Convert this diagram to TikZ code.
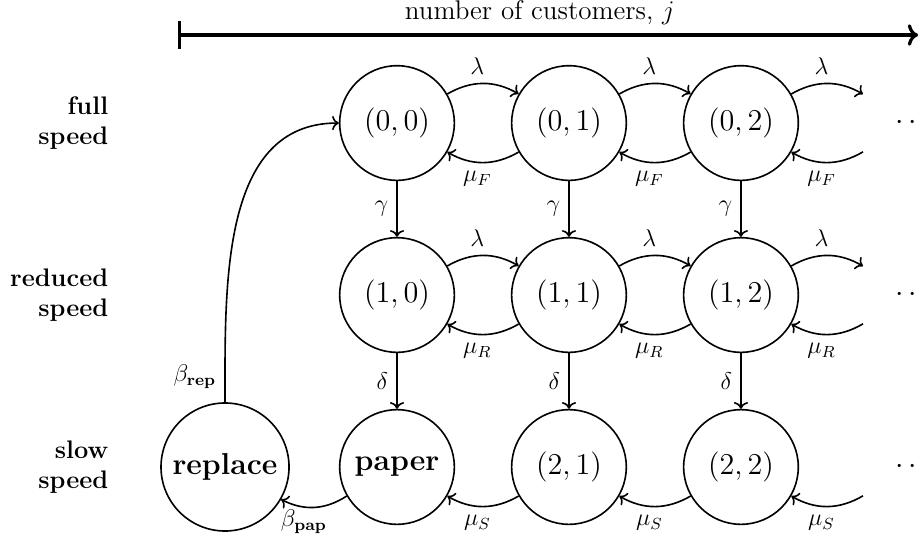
\RequirePackage{fix-cm}
\documentclass[tikz,border=0pt,12pt]{standalone}
\usetikzlibrary{arrows.meta}

\tikzset{
    state/.style={circle, draw, thick, minimum size=2cm, font=\fontsize{15}{18}\selectfont},
    ghost/.style={circle, minimum size=2cm, font=\fontsize{15}{18}\selectfont},
    trans/.style={->, thick},
    level/.style={anchor=east, align=right, font=\fontsize{12.6}{15}\selectfont\bfseries},
}

\begin{document}
\begin{tikzpicture}

    \useasboundingbox (-3.925, -1.186) rectangle (12.175, 8.146);

    %% Axis of the number of customers
    \coordinate (axL) at (-0.82, 7.535);
    \coordinate (axR) at (12.09, 7.535);
    \draw[ultra thick, {Bar[width=13.5pt]}-{To}] (axL) -- (axR);
    \node [anchor=base, font=\fontsize{13.4}{16}\selectfont] (axis) at (5.49, 7.80) {number of customers, \( j \)};

    % Speed levels
    \node [level] (full) at (-1.89, 6) {full\\speed};
    \node [level] (reduced) at (-1.89, 3) {reduced\\speed};
    \node [level] (slow) at (-1.89, 0) {slow\\speed};

    % Full speed
    \node [state] (s00) at (3, 6) {\( (0,0) \)};
    \node [state] (s01) at (6, 6) {\( (0,1) \)};
    \node [state] (s02) at (9, 6) {\( (0,2) \)};
    \node [ghost] (s03) at (12, 6) {\( \cdots \)};

    % Reduced speed
    \node [state] (s10) at (3, 3) {\( (1,0) \)};
    \node [state] (s11) at (6, 3) {\( (1,1) \)};
    \node [state] (s12) at (9, 3) {\( (1,2) \)};
    \node [ghost] (s13) at (12, 3) {\( \cdots \)};

    % Slow speed
    \node [state, font=\fontsize{15}{18}\selectfont\bfseries] (rep) at (0, 0) {replace};
    \node [state, font=\fontsize{15}{18}\selectfont\bfseries] (pap) at (3, 0) {paper};
    \node [state] (s21) at (6, 0) {\( (2,1) \)};
    \node [state] (s22) at (9, 0) {\( (2,2) \)};
    \node [ghost] (s23) at (12, 0) {\( \cdots \)};

    % Arrivals and services, full speed
    \draw[trans] (s00) to[bend left] node[above, pos=0.42] {\( \lambda \)} (s01);
    \draw[trans] (s01) to[bend left] node[below, pos=0.58] {\( \mu_F \)} (s00);
    \draw[trans] (s01) to[bend left] node[above, pos=0.42] {\( \lambda \)} (s02);
    \draw[trans] (s02) to[bend left] node[below, pos=0.58] {\( \mu_F \)} (s01);
    \draw[trans] (s02) to[bend left] node[above, pos=0.42] {\( \lambda \)} (s03);
    \draw[trans] (s03) to[bend left] node[below, pos=0.58] {\( \mu_F \)} (s02);

    % Arrivals and services, reduced speed
    \draw[trans] (s10) to[bend left] node[above, pos=0.42] {\( \lambda \)} (s11);
    \draw[trans] (s11) to[bend left] node[below, pos=0.58] {\( \mu_R \)} (s10);
    \draw[trans] (s11) to[bend left] node[above, pos=0.42] {\( \lambda \)} (s12);
    \draw[trans] (s12) to[bend left] node[below, pos=0.58] {\( \mu_R \)} (s11);
    \draw[trans] (s12) to[bend left] node[above, pos=0.42] {\( \lambda \)} (s13);
    \draw[trans] (s13) to[bend left] node[below, pos=0.58] {\( \mu_R \)} (s12);

    % Services, slow speed
    \draw[trans] (s21) to[bend left] node[below, pos=0.58] {\( \mu_S \)} (pap);
    \draw[trans] (s22) to[bend left] node[below, pos=0.58] {\( \mu_S \)} (s21);
    \draw[trans] (s23) to[bend left] node[below, pos=0.58] {\( \mu_S \)} (s22);

    % Slowing down
    \draw[trans] (s00) -- node[left] {\( \gamma \)} (s10);
    \draw[trans] (s01) -- node[left] {\( \gamma \)} (s11);
    \draw[trans] (s02) -- node[left] {\( \gamma \)} (s12);
    \draw[trans] (s10) -- node[left] {\( \delta \)} (pap);
    \draw[trans] (s11) -- node[left] {\( \delta \)} (s21);
    \draw[trans] (s12) -- node[left] {\( \delta \)} (s22);

    % Repair
    \draw[trans] (pap) to[bend left] node[below, pos=0.66, inner sep=1pt] {\( \beta_{\mathbf{pap}} \)} (rep);
    \draw[trans] (rep) to[out=90, in=180] node[left, pos=0.07] {\( \beta_{\mathbf{rep}} \)} (s00);

\end{tikzpicture}
\end{document}
